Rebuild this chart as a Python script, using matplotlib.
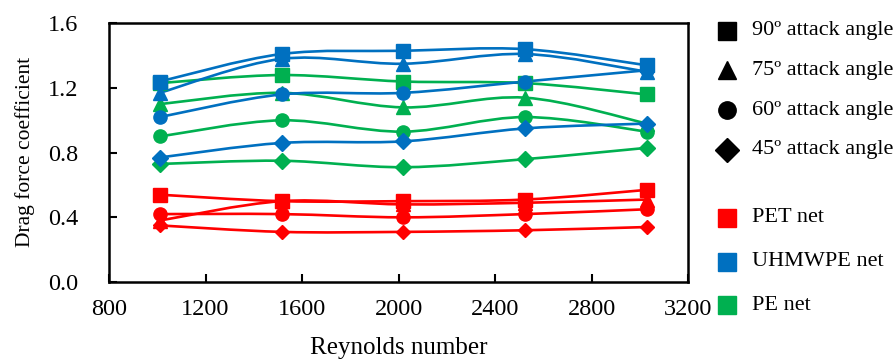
import matplotlib
matplotlib.use("Agg")
import matplotlib.pyplot as plt
from matplotlib.path import Path
from matplotlib.patches import PathPatch
from matplotlib.lines import Line2D
import numpy as np

plt.rcParams['font.family'] = ['Liberation Serif', 'DejaVu Serif']

reynolds = [1010, 1515, 2020, 2525, 3030]

# UHMWPE net
uhmwpe_90 = [1.24, 1.41, 1.43, 1.44, 1.34]
uhmwpe_75 = [1.17, 1.38, 1.35, 1.41, 1.30]
uhmwpe_60 = [1.02, 1.16, 1.17, 1.24, 1.31]
uhmwpe_45 = [0.77, 0.86, 0.87, 0.95, 0.98]
# PE net
pe_90 = [1.23, 1.28, 1.24, 1.23, 1.16]
pe_75 = [1.10, 1.17, 1.08, 1.14, 0.98]
pe_60 = [0.90, 1.00, 0.93, 1.02, 0.93]
pe_45 = [0.73, 0.75, 0.71, 0.76, 0.83]
# PET net
pet_90 = [0.54, 0.50, 0.50, 0.51, 0.57]
pet_75 = [0.38, 0.50, 0.48, 0.49, 0.51]
pet_60 = [0.42, 0.42, 0.40, 0.42, 0.45]
pet_45 = [0.35, 0.31, 0.31, 0.32, 0.34]

angle_labels = ['90º attack angle', '75º attack angle', '60º attack angle', '45º attack angle']
net_labels = ['PET net', 'UHMWPE net', 'PE net']
colors = {'PET net': '#FF0000', 'UHMWPE net': '#0070C0', 'PE net': '#00B050'}
markers = ['s', '^', 'o', 'D']
msizes = [9.5, 9.5, 9.5, 8]

series = {
    'PET net': [pet_90, pet_75, pet_60, pet_45],
    'UHMWPE net': [uhmwpe_90, uhmwpe_75, uhmwpe_60, uhmwpe_45],
    'PE net': [pe_90, pe_75, pe_60, pe_45],
}

fig = plt.figure(figsize=(8.95, 3.62), dpi=100)
ax = fig.add_axes([0.1218, 0.221, 0.647, 0.7146])


def smooth_path(xs, ys, k=1/6):
    pts = np.column_stack([xs, ys]).astype(float)
    n = len(pts)
    verts = [pts[0]]
    codes = [Path.MOVETO]
    for i in range(n - 1):
        p0 = pts[i - 1] if i > 0 else pts[i]
        p1 = pts[i]
        p2 = pts[i + 1]
        p3 = pts[i + 2] if i + 2 < n else pts[i + 1]
        c1 = p1 + (p2 - p0) * k
        c2 = p2 - (p3 - p1) * k
        verts += [c1, c2, p2]
        codes += [Path.CURVE4] * 3
    return Path(verts, codes)


for net in ['PE net', 'UHMWPE net', 'PET net']:
    c = colors[net]
    for vals, m, ms in zip(series[net], markers, msizes):
        if net == 'PET net' and m == 'D':
            ms = 7
        ax.add_patch(PathPatch(smooth_path(reynolds, vals), fill=False,
                               edgecolor=c, lw=1.9, zorder=2))
        ax.plot(reynolds, vals, linestyle='none', marker=m, ms=ms,
                color=c, mec=c, zorder=3)

ax.set_xlim(800, 3200)
ax.set_ylim(0, 1.6)
ax.set_xticks([800, 1200, 1600, 2000, 2400, 2800, 3200])
ax.set_yticks([0.0, 0.4, 0.8, 1.2, 1.6])
ax.set_yticklabels(['0.0', '0.4', '0.8', '1.2', '1.6'])
ax.tick_params(direction='in', length=6, width=1.5, labelsize=17.5)
ax.tick_params(axis='x', pad=12.5)
ax.tick_params(axis='y', pad=22)
for s in ax.spines.values():
    s.set_linewidth(1.8)
ax.set_xlabel('Reynolds number', fontsize=18)
ax.xaxis.set_label_coords(0.5, (282 - 348) / 258.7)
ax.xaxis.label.set_va('center')
ax.set_ylabel('Drag force coefficient', fontsize=15.5)
ax.yaxis.set_label_coords((25 - 109) / 579, 0.504)
ax.yaxis.label.set_va('center')

# Legend (manual)
W, H = 895, 362
def fx(px):
    return px / W
def fy(py):
    return 1 - py / H

leg_marker_x = 727
leg_text_x = 752
angle_y = [31, 70, 110, 150]
for lab, m, ms, yy in zip(angle_labels, markers, [12.5, 13, 12.5, 12], angle_y):
    fig.add_artist(Line2D([fx(leg_marker_x)], [fy(yy)], marker=m, ms=ms,
                          color='black', linestyle='none'))
    fig.text(fx(leg_text_x), fy(yy), lab, fontsize=16, va='center', ha='left')

net_y = [218, 262, 305]
for lab, yy in zip(net_labels, net_y):
    fig.add_artist(Line2D([fx(leg_marker_x)], [fy(yy)], marker='s', ms=12.5,
                          color=colors[lab], linestyle='none'))
    fig.text(fx(leg_text_x), fy(yy), lab, fontsize=16, va='center', ha='left')

fig.savefig('out.png', dpi=100)
